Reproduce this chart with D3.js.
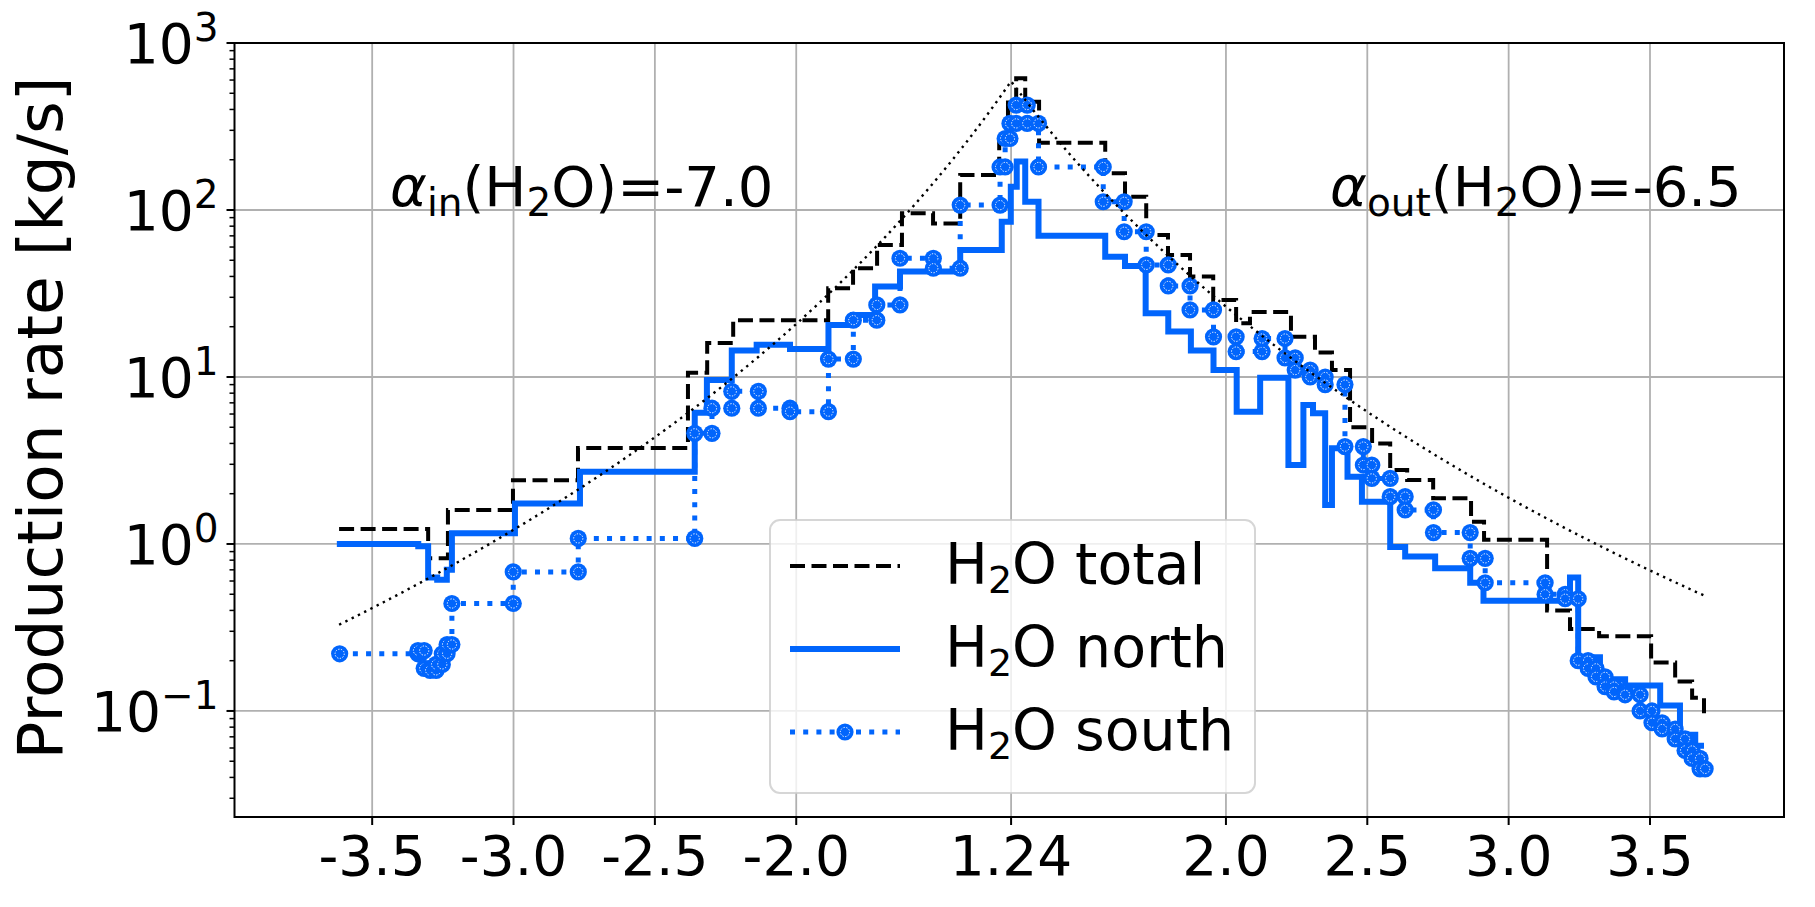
<!DOCTYPE html>
<html>
<head>
<meta charset="utf-8">
<title>H2O production rate</title>
<script src="https://cdn.jsdelivr.net/npm/d3@7"></script>
<style>
  body { margin: 0; background: #fff; }
  text { font-family: "DejaVu Sans", sans-serif; fill: #000; }
</style>
</head>
<body>
<script>
// x = signed distance from perihelion along the orbit axis: |r| - 1.24 AU, negative = inbound
var xTicks = [-2.26, -1.76, -1.26, -0.76, 0, 0.76, 1.26, 1.76, 2.26];
var xTickLabels = ["-3.5", "-3.0", "-2.5", "-2.0", "1.24", "2.0", "2.5", "3.0", "3.5"];
var yTicks = [0.1, 1, 10, 100, 1000];
var yTickExp = ["\u22121", "0", "1", "2", "3"];

// step edges and values, kg/s
var totalX = [-2.377, -2.062, -1.992, -1.762, -1.532, -1.143, -1.075, -0.983, -0.647, -0.559, -0.474, -0.386, -0.276, -0.180, -0.042, -0.011, 0.018, 0.050, 0.099, 0.333, 0.403, 0.478, 0.555, 0.633, 0.715, 0.796, 0.845, 0.990, 1.075, 1.135, 1.199, 1.277, 1.341, 1.401, 1.493, 1.627, 1.673, 1.896, 1.977, 2.080, 2.264, 2.349, 2.409, 2.451];
var totalQ = [1.23, 0.82, 1.60, 2.41, 3.76, 10.6, 16.0, 21.9, 34, 44.8, 61.7, 95.5, 83, 162, 262, 440, 615, 445, 253, 166, 120, 70.8, 53.8, 39.9, 28.9, 21.0, 24.5, 17.4, 14.0, 11.0, 5.0, 4.0, 2.77, 2.42, 1.88, 1.36, 1.06, 0.40, 0.31, 0.28, 0.195, 0.15, 0.12, 0.095];

var northX = [-2.385, -2.097, -2.062, -2.030, -1.996, -1.978, -1.755, -1.525, -1.119, -1.076, -0.988, -0.900, -0.782, -0.646, -0.559, -0.481, -0.393, -0.180, -0.033, -0.001, 0.020, 0.050, 0.097, 0.333, 0.403, 0.476, 0.556, 0.636, 0.716, 0.798, 0.881, 0.981, 1.034, 1.068, 1.111, 1.135, 1.190, 1.241, 1.341, 1.394, 1.500, 1.624, 1.671, 1.977, 2.006, 2.083, 2.172, 2.296, 2.366, 2.420, 2.451];
var northQ = [1.0, 0.97, 0.63, 0.61, 0.70, 1.16, 1.75, 2.71, 6.1, 9.6, 14.4, 15.6, 14.7, 20.5, 23.5, 34.8, 42.8, 57.5, 85, 138, 195, 112, 70, 52.5, 46.2, 24.1, 18.7, 14.4, 11.0, 6.2, 9.9, 2.97, 6.8, 6.07, 1.71, 3.74, 2.53, 1.79, 0.96, 0.84, 0.715, 0.586, 0.457, 0.63, 0.21, 0.155, 0.142, 0.108, 0.072, 0.062];

var southX = [-2.375, -2.098, -2.076, -2.055, -2.034, -2.012, -1.995, -1.978, -1.761, -1.531, -1.119, -1.058, -0.988, -0.894, -0.782, -0.646, -0.558, -0.475, -0.393, -0.275, -0.180, -0.039, -0.021, -0.004, 0.018, 0.057, 0.097, 0.326, 0.400, 0.478, 0.556, 0.633, 0.716, 0.796, 0.888, 0.969, 1.005, 1.058, 1.111, 1.181, 1.246, 1.276, 1.341, 1.394, 1.494, 1.624, 1.677, 1.889, 1.960, 2.006, 2.041, 2.069, 2.101, 2.133, 2.172, 2.225, 2.267, 2.303, 2.349, 2.384, 2.409, 2.437, 2.455];
var southQ = [0.22, 0.23, 0.18, 0.175, 0.19, 0.22, 0.25, 0.44, 0.68, 1.08, 4.6, 6.5, 8.2, 6.5, 6.2, 12.8, 21.9, 27, 51.4, 44.8, 107, 181, 268, 330, 425, 330, 181, 112, 74.1, 46.9, 35.1, 25.2, 17.4, 14.2, 17.0, 13, 11, 10, 9.0, 3.83, 2.97, 2.47, 1.92, 1.60, 1.17, 0.82, 0.586, 0.50, 0.47, 0.20, 0.18, 0.16, 0.14, 0.13, 0.125, 0.10, 0.085, 0.078, 0.068, 0.058, 0.052, 0.045];

// power-law fit Q = Q0 (r/1.24)^alpha
var alphaIn = -7.0, alphaOut = -6.5, qPeri = 590, rPeri = 1.24;
var fitRange = [-2.377, 2.451];

var blue = "#0165fc";
var W = 1815, H = 907;
var axL = 234.5, axR = 1784, axT = 43, axB = 817;

var svg = d3.select("body").append("svg")
  .attr("width", W).attr("height", H);

var x = d3.scaleLinear().domain([-2.747, 2.734]).range([axL, axR]);
var y = d3.scaleLog().domain([Math.pow(10, -1.635), 1000]).range([axB, axT]);

// grid
svg.append("g").selectAll("line").data(xTicks).enter().append("line")
  .attr("x1", function(d){ return x(d); }).attr("x2", function(d){ return x(d); })
  .attr("y1", axT).attr("y2", axB)
  .attr("stroke", "#b0b0b0").attr("stroke-width", 1.8);
svg.append("g").selectAll("line").data(yTicks).enter().append("line")
  .attr("x1", axL).attr("x2", axR)
  .attr("y1", function(d){ return y(d); }).attr("y2", function(d){ return y(d); })
  .attr("stroke", "#b0b0b0").attr("stroke-width", 1.8);

function stepPoints(xs, qs) {
  var pts = [];
  for (var i = 0; i < xs.length - 1; i++) {
    pts.push([xs[i], qs[i]]);
    pts.push([xs[i + 1], qs[i]]);
  }
  if (qs.length === xs.length) pts.push([xs[xs.length - 1], qs[qs.length - 1]]);
  return pts;
}

var line = d3.line().x(function(d){ return x(d[0]); }).y(function(d){ return y(d[1]); });

var plot = svg.append("g");

plot.append("path").datum(stepPoints(totalX, totalQ))
  .attr("d", line).attr("fill", "none").attr("stroke", "#000")
  .attr("stroke-width", 4).attr("stroke-dasharray", "15,6.5");

plot.append("path").datum(stepPoints(northX, northQ))
  .attr("d", line).attr("fill", "none").attr("stroke", blue)
  .attr("stroke-width", 6).attr("stroke-linejoin", "miter");

var southPts = stepPoints(southX, southQ);
plot.append("path").datum(southPts)
  .attr("d", line).attr("fill", "none").attr("stroke", blue)
  .attr("stroke-width", 5).attr("stroke-dasharray", "5,8.2");

function marker(g, cx, cy) {
  g.append("circle").attr("cx", cx).attr("cy", cy).attr("r", 8.6).attr("fill", blue);
  g.append("circle").attr("cx", cx).attr("cy", cy).attr("r", 4.6)
    .attr("fill", "none").attr("stroke", "#fff").attr("stroke-width", 1)
    .attr("stroke-dasharray", "1.3,1.5");
}
var mk = plot.append("g");
southPts.forEach(function(p){ marker(mk, x(p[0]), y(p[1])); });

// fit line
var fitU = d3.range(0, 401).map(function(i){
  return fitRange[0] + (fitRange[1] - fitRange[0]) * i / 400;
});
fitU.push(0);
fitU.sort(d3.ascending);
var fitPts = fitU.map(function(u){
  var r = rPeri + Math.abs(u);
  return [u, qPeri * Math.pow(r / rPeri, u < 0 ? alphaIn : alphaOut)];
});
plot.append("path").datum(fitPts)
  .attr("d", line).attr("fill", "none").attr("stroke", "#000")
  .attr("stroke-width", 2.4).attr("stroke-dasharray", "2.4,4.6");

// spines
svg.append("rect").attr("x", axL).attr("y", axT)
  .attr("width", axR - axL).attr("height", axB - axT)
  .attr("fill", "none").attr("stroke", "#000").attr("stroke-width", 2);

// x ticks
var xt = svg.append("g");
xTicks.forEach(function(d, i){
  xt.append("line").attr("x1", x(d)).attr("x2", x(d))
    .attr("y1", axB).attr("y2", axB + 8)
    .attr("stroke", "#000").attr("stroke-width", 2);
  xt.append("text").attr("x", x(d)).attr("y", axB + 58)
    .attr("text-anchor", "middle").attr("font-size", 55)
    .text(xTickLabels[i]);
});

// y ticks
var yt = svg.append("g");
yTicks.forEach(function(d, i){
  yt.append("line").attr("x1", axL - 8).attr("x2", axL)
    .attr("y1", y(d)).attr("y2", y(d))
    .attr("stroke", "#000").attr("stroke-width", 2);
  var t = yt.append("text").attr("x", axL - 16).attr("y", y(d) + 20)
    .attr("text-anchor", "end").attr("font-size", 55);
  t.append("tspan").text("10");
  t.append("tspan").attr("dy", -22).attr("font-size", 39).text(yTickExp[i]);
});
var minor = [];
y.ticks().forEach(function(v){
  var m = Math.round(v / Math.pow(10, Math.floor(Math.log10(v) + 1e-9)));
  if (m !== 1) minor.push(v);
});
yt.selectAll("line.minor").data(minor).enter().append("line")
  .attr("class", "minor")
  .attr("x1", axL - 5).attr("x2", axL)
  .attr("y1", function(d){ return y(d); }).attr("y2", function(d){ return y(d); })
  .attr("stroke", "#000").attr("stroke-width", 1.5);

// y label
svg.append("text")
  .attr("transform", "translate(62,418) rotate(-90)")
  .attr("text-anchor", "middle").attr("font-size", 63)
  .text("Production rate [kg/s]");

// annotations
function alphaLabel(xp, yp, sub, val) {
  var t = svg.append("text").attr("x", xp).attr("y", yp).attr("font-size", 56);
  t.append("tspan").attr("font-style", "italic").text("\u03b1");
  t.append("tspan").attr("font-size", 39).attr("dy", 10).text(sub);
  t.append("tspan").attr("dy", -10).text("(H");
  t.append("tspan").attr("font-size", 39).attr("dy", 10).text("2");
  t.append("tspan").attr("dy", -10).text("O)=" + val);
}
alphaLabel(390, 206, "in", "-7.0");
alphaLabel(1330, 206, "out", "-6.5");

// legend
var lg = svg.append("g");
lg.append("rect").attr("x", 770).attr("y", 520).attr("width", 485).attr("height", 273)
  .attr("rx", 10).attr("fill", "#fff").attr("fill-opacity", 0.8)
  .attr("stroke", "#cccccc").attr("stroke-opacity", 0.8).attr("stroke-width", 2);
var entries = [
  {name: "total", color: "#000", w: 4, dash: "15,6.5", mark: false},
  {name: "north", color: blue, w: 6, dash: null, mark: false},
  {name: "south", color: blue, w: 5, dash: "5,8.2", mark: true}
];
entries.forEach(function(e, i){
  var ly = 566 + i * 83;
  lg.append("line").attr("x1", 790).attr("x2", 900).attr("y1", ly).attr("y2", ly)
    .attr("stroke", e.color).attr("stroke-width", e.w)
    .attr("stroke-dasharray", e.dash);
  if (e.mark) marker(lg, 845, ly);
  var t = lg.append("text").attr("x", 945).attr("y", ly + 18).attr("font-size", 57);
  t.append("tspan").text("H");
  t.append("tspan").attr("font-size", 38).attr("dy", 9).text("2");
  t.append("tspan").attr("dy", -9).text("O " + e.name);
});
</script>
</body>
</html>
